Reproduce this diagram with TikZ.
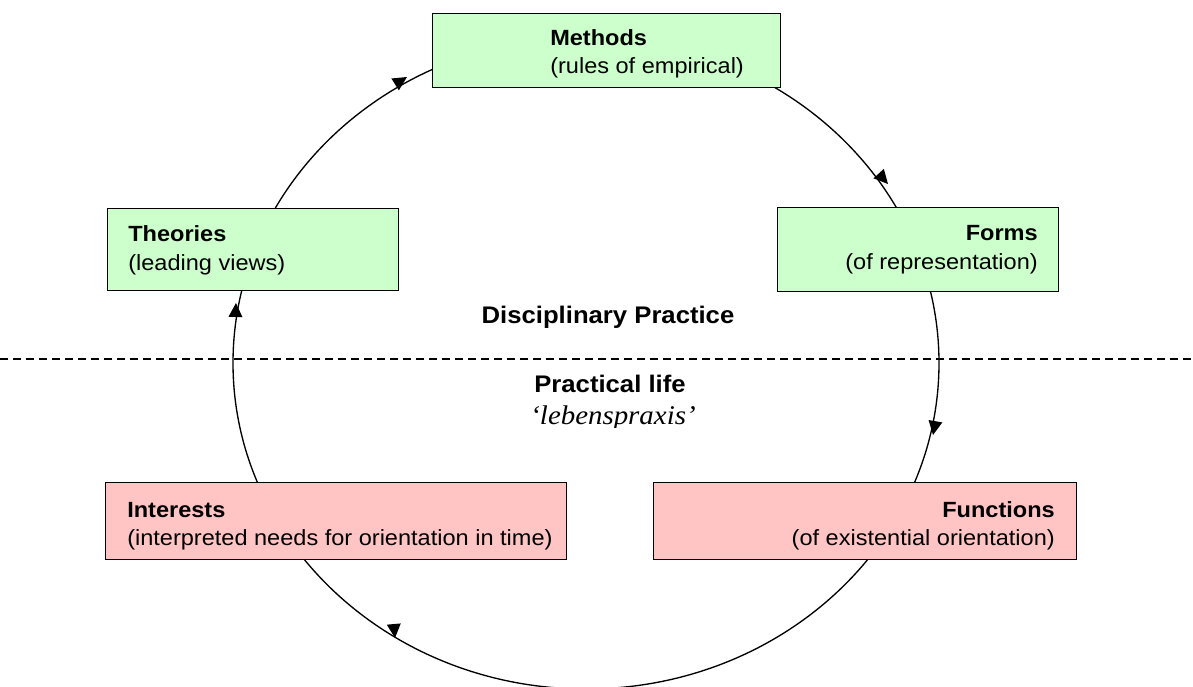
\documentclass[tikz,border=0pt]{standalone}
\usepackage{fontspec}
\setmainfont{Liberation Sans}[FakeStretch=1.07]
\newfontfamily\serifit{Liberation Serif}[FakeStretch=1.07]
\definecolor{boxgreen}{HTML}{CCFFCC}
\definecolor{boxpink}{HTML}{FFC5C5}
\begin{document}
\begin{tikzpicture}[x=0.75pt,y=-0.75pt,
  box/.style={draw=black,line width=1.1pt,inner sep=0pt,anchor=north west},
  greenbox/.style={box,fill=boxgreen},
  pinkbox/.style={box,fill=boxpink},
  head/.style={inner sep=0pt,font=\fontsize{16.5}{20}\selectfont\bfseries},
  sub/.style={inner sep=0pt,font=\fontsize{16.5}{20}\selectfont},
  zone/.style={inner sep=0pt,font=\fontsize{18}{22}\selectfont\bfseries,anchor=base},
  cycle line/.style={line width=1pt},
  tipmark/.pic={\fill (0,0) -- (-14,7) -- (-14,-7) -- cycle;}
]
\useasboundingbox (0,0) rectangle (1193,686);

% cycle (ellipse)
\coordinate (c) at (586,363);
\draw[cycle line] (c) ellipse [x radius=264.75pt, y radius=244.5pt];

% dashed divider
\coordinate (dl) at (0,359);
\coordinate (dr) at (1193,359);
\draw[line width=0.9pt,dash pattern=on 6pt off 3.75pt] (dl) -- (dr);

% boxes
\node[greenbox,minimum width=261pt,minimum height=55.5pt] (methods) at (432,13) {};
\node[greenbox,minimum width=218.25pt,minimum height=61.5pt] (theories) at (107,208) {};
\node[greenbox,minimum width=210.75pt,minimum height=63pt] (forms) at (777,207) {};
\node[pinkbox,minimum width=345.75pt,minimum height=57.75pt] (interests) at (105,482) {};
\node[pinkbox,minimum width=317.25pt,minimum height=57.75pt] (functions) at (653,482) {};

% box texts
\node[head,anchor=base west] (methods-h) at (550,45) {Methods};
\node[sub,anchor=base west] (methods-s) at (550,73) {(rules of empirical)};
\node[head,anchor=base west] (theories-h) at (128,241) {Theories};
\node[sub,anchor=base west] (theories-s) at (128,270) {(leading views)};
\node[head,anchor=base east] (forms-h) at (1038,240) {Forms};
\node[sub,anchor=base east] (forms-s) at (1038,269) {(of representation)};
\node[head,anchor=base west] (interests-h) at (127,517) {Interests};
\node[sub,anchor=base west] (interests-s) at (127,545) {(interpreted needs for orientation in time)};
\node[head,anchor=base east] (functions-h) at (1055,517) {Functions};
\node[sub,anchor=base east] (functions-s) at (1055,545) {(of existential orientation)};

% zone labels
\node[zone] (disc) at (608,323) {Disciplinary Practice};
\node[zone] (prac) at (610,392) {Practical life};
\begin{scope}
  \clip (400,398) rectangle (800,427);
  \node[inner sep=0pt,anchor=base,font=\fontsize{20.25}{24}\serifit\itshape] (lebens) at (613,424) {‘lebenspraxis’};
\end{scope}

% arrowheads on the cycle
\coordinate (a1) at (407,77);
\coordinate (a2) at (888,184);
\coordinate (a3) at (933,435);
\coordinate (a4) at (395,638);
\coordinate (a5) at (236,303);
\pic[rotate=32] at (a1) {tipmark};
\pic[rotate=-48] at (a2) {tipmark};
\pic[rotate=-100] at (a3) {tipmark};
\pic[rotate=-85] at (a4) {tipmark};
\pic[rotate=88] at (a5) {tipmark};
\end{tikzpicture}
\end{document}
